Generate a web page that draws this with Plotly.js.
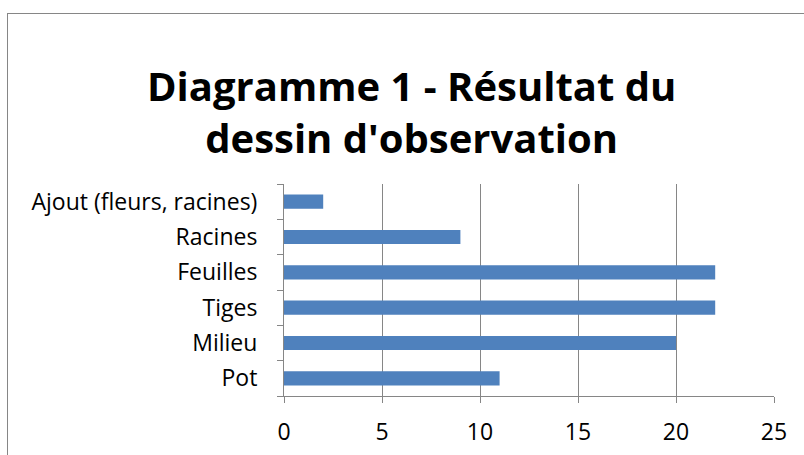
<!DOCTYPE html>
<html><head><meta charset="utf-8">
<script src="https://cdn.plot.ly/plotly-3.0.1.min.js"></script>
<style>
html,body{margin:0;padding:0;background:#fff;overflow:hidden;}
#chart{width:804px;height:455px;position:absolute;left:0;top:0;}
#frame{position:absolute;left:7px;top:13px;width:808px;height:460px;border:1px solid #868686;pointer-events:none;}
</style></head>
<body>
<div id="chart"></div>
<div id="frame"></div>
<script>
var categories = ["Pot", "Milieu", "Tiges", "Feuilles", "Racines", "Ajout (fleurs, racines)"];
var values = [11, 20, 22, 22, 9, 2];
var xTicks = [0, 5, 10, 15, 20, 25];
var titleText = "Diagramme 1 - Résultat du<br>dessin d'observation";

var trace = {
  type: "bar",
  orientation: "h",
  x: values,
  y: categories,
  marker: {color: "#4F81BD"},
  hoverinfo: "x+y"
};

var layout = {
  width: 804, height: 455,
  margin: {l: 284, r: 30, t: 184, b: 59},
  paper_bgcolor: "#fff", plot_bgcolor: "#fff",
  font: {family: "Open Sans, Liberation Sans, sans-serif", size: 23, color: "#000"},
  title: {
    text: titleText,
    font: {family: "Open Sans, Liberation Sans, sans-serif", size: 40, color: "#000", weight: "bold"},
    x: 0.512, xref: "container", xanchor: "center",
    y: 0.778, yref: "container", yanchor: "middle"
  },
  bargap: 0.6,
  showlegend: false,
  xaxis: {
    range: [0, 25],
    tickvals: xTicks,
    ticktext: xTicks.map(String),
    showgrid: true, gridcolor: "#868686", gridwidth: 1,
    showline: true, linecolor: "#868686", linewidth: 1,
    ticks: "outside", ticklen: 6, tickcolor: "#868686",
    ticklabelstandoff: 9,
    zeroline: false, fixedrange: true,
    tickfont: {size: 23}
  },
  yaxis: {
    type: "category",
    categoryorder: "array", categoryarray: categories,
    showgrid: false,
    showline: true, linecolor: "#868686", linewidth: 1,
    ticks: "outside", ticklen: 6, tickcolor: "#868686",
    tickson: "boundaries",
    ticklabelstandoff: 21,
    zeroline: false, fixedrange: true,
    tickfont: {size: 23}
  }
};

Plotly.newPlot("chart", [trace], layout, {displayModeBar: false, staticPlot: true});
</script>
</body></html>
